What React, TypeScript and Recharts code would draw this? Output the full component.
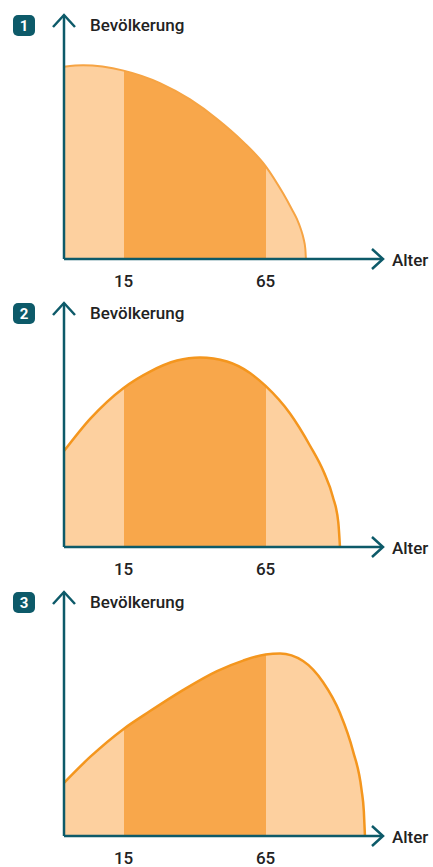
import React from 'react'
import { AreaChart, Area, XAxis, YAxis, ReferenceDot } from 'recharts'

// Altersstufen (x) und Bevölkerung (y)
const alter1 = [-6, 0.7, 15, 27.8, 38.4, 47.9, 57.1, 65, 71.1, 74.2, 76.1, 77.4, 78.4, 79.0, 79.2]
const bev1 = [78.8, 79.4, 77.2, 72.1, 65.4, 57.4, 48.0, 38.1, 27.0, 20.5, 16.2, 12.3, 8.2, 4.1, 0]

const alter2 = [-6, 3.2, 15, 24.3, 33.8, 41.9, 51.4, 59.5, 65, 73.6, 80.6, 85.5, 88.7, 90.6, 91.2]
const bev2 = [39.3, 52.5, 65.2, 71.9, 76.4, 77.7, 76.0, 71.3, 66.0, 54.7, 41.6, 30.7, 20.5, 10.2, 0]

const alter3 = [-6, 3.2, 15, 24.3, 35.9, 47.9, 57.1, 65, 70.1, 78.2, 85.2, 91.2, 95.8, 98.8, 99.6, 100]
const bev3 = [21.8, 32.4, 43.9, 51.2, 59.8, 67.6, 71.9, 74.4, 74.8, 71.7, 63.1, 50.4, 34.8, 18.9, 10.2, 0]

const xTicks = [15, 65]
const grenzen = [15, 65]
const xDomain: [number, number] = [-6, 106]

const TEAL = '#0d5a69'
const LIGHT = '#fdd09f'
const DARK = '#f8a74b'
const FONT = 'Roboto, "Noto Sans", sans-serif'

interface PanelProps {
  nr: number
  alter: number[]
  bev: number[]
  stroke: string
  strokeWidth: number
}

function Panel({ nr, alter, bev, stroke, strokeWidth }: PanelProps) {
  const data = alter.map((a, i) => ({ alter: a, bev: bev[i] }))
  const min = alter[0]
  const max = alter[alter.length - 1]
  const o1 = (grenzen[0] - min) / (max - min)
  const o2 = (grenzen[1] - min) / (max - min)
  const gid = `fill-${nr}`

  return (
    <AreaChart width={433} height={300} data={data} margin={{ top: 15, right: 51, bottom: 11, left: 4 }}>
      <defs>
        <linearGradient id={gid} x1="0" y1="0" x2="1" y2="0">
          <stop offset={o1} stopColor={LIGHT} />
          <stop offset={o1} stopColor={DARK} />
          <stop offset={o2} stopColor={DARK} />
          <stop offset={o2} stopColor={LIGHT} />
        </linearGradient>
      </defs>
      <Area
        type="monotone"
        dataKey="bev"
        fill={`url(#${gid})`}
        fillOpacity={1}
        stroke={stroke}
        strokeWidth={strokeWidth}
        isAnimationActive={false}
        dot={false}
        activeDot={false}
      />
      <XAxis
        type="number"
        dataKey="alter"
        domain={xDomain}
        ticks={xTicks}
        height={30}
        tickLine={false}
        tickMargin={10}
        axisLine={{ stroke: TEAL, strokeWidth: 2.5 }}
        tick={{ fill: '#222', fontSize: 17, fontWeight: 500, fontFamily: FONT }}
      />
      <YAxis
        type="number"
        domain={[0, 100]}
        width={60}
        tick={false}
        tickLine={false}
        axisLine={{ stroke: TEAL, strokeWidth: 2.5 }}
      />
      {/* Pfeil + Beschriftung der x-Achse */}
      <ReferenceDot
        x={xDomain[1]}
        y={0}
        ifOverflow="visible"
        shape={(p: any) => (
          <g>
            <polyline
              points={`${p.cx - 10},${p.cy - 10} ${p.cx + 1},${p.cy} ${p.cx - 10},${p.cy + 10}`}
              fill="none"
              stroke={TEAL}
              strokeWidth={2.5}
            />
            <text x={p.cx + 10} y={p.cy + 6.5} fill="#222" fontSize={17} fontWeight={500} fontFamily={FONT}>
              Alter
            </text>
          </g>
        )}
      />
      {/* Pfeil, Nummer und Beschriftung der y-Achse */}
      <ReferenceDot
        x={xDomain[0]}
        y={100}
        ifOverflow="visible"
        shape={(p: any) => (
          <g>
            <polyline
              points={`${p.cx - 11},${p.cy + 12} ${p.cx},${p.cy} ${p.cx + 11},${p.cy + 12}`}
              fill="none"
              stroke={TEAL}
              strokeWidth={2.5}
            />
            <rect x={p.cx - 51} y={p.cy} width={22} height={21} rx={5} fill={TEAL} />
            <text
              x={p.cx - 40}
              y={p.cy + 16}
              textAnchor="middle"
              fill="#fff"
              fontSize={15}
              fontWeight={700}
              fontFamily={FONT}
            >
              {nr}
            </text>
            <text x={p.cx + 26} y={p.cy + 16} fill="#222" fontSize={17} fontWeight={500} fontFamily={FONT}>
              Bevölkerung
            </text>
          </g>
        )}
      />
    </AreaChart>
  )
}

export default function App() {
  return (
    <div style={{ position: 'absolute', left: 0, top: 0, width: 433, height: 867, background: '#fff', overflow: 'hidden' }}>
      <div style={{ position: 'absolute', left: 0, top: 0 }}>
        <Panel nr={1} alter={alter1} bev={bev1} stroke="#f6a444" strokeWidth={2} />
      </div>
      <div style={{ position: 'absolute', left: 0, top: 288 }}>
        <Panel nr={2} alter={alter2} bev={bev2} stroke="#f4961e" strokeWidth={2.5} />
      </div>
      <div style={{ position: 'absolute', left: 0, top: 577 }}>
        <Panel nr={3} alter={alter3} bev={bev3} stroke="#f4961e" strokeWidth={2.5} />
      </div>
    </div>
  )
}
